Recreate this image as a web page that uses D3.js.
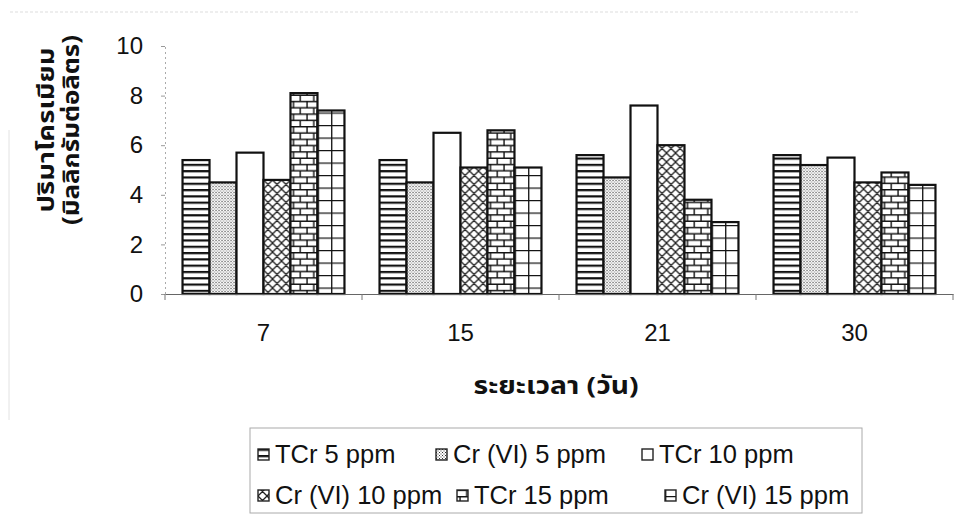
<!DOCTYPE html>
<html>
<head>
<meta charset="utf-8">
<script src="https://cdn.jsdelivr.net/npm/d3@7"></script>
<style>
  html, body { margin: 0; padding: 0; background: #fff; }
  svg { display: block; }
  .num { font-family: "Liberation Sans", Arial, sans-serif; fill: #111; }
  .thai { font-family: "Noto Sans Thai", "Noto Sans", "DejaVu Sans", sans-serif; font-weight: bold; fill: #111; }
</style>
</head>
<body>
<svg id="chart" width="963" height="518"></svg>
<script>
// Sampling day (x categories)
const days = ["7", "15", "21", "30"];
// Series names as shown in the legend
const seriesNames = ["TCr 5 ppm", "Cr (VI) 5 ppm", "TCr 10 ppm", "Cr (VI) 10 ppm", "TCr 15 ppm", "Cr (VI) 15 ppm"];
// Chromium concentration (mg/L) per series, one value per day
const tcr5   = [5.4, 5.4, 5.6, 5.6];
const crvi5  = [4.5, 4.5, 4.7, 5.2];
const tcr10  = [5.7, 6.5, 7.6, 5.5];
const crvi10 = [4.6, 5.1, 6.0, 4.5];
const tcr15  = [8.1, 6.6, 3.8, 4.9];
const crvi15 = [7.4, 5.1, 2.9, 4.4];
const yTicks = [0, 2, 4, 6, 8, 10];
const yTitle = ["ปริมาโครเมียม", "(มิลลิกรัมต่อลิตร)"];
const xTitle = "ระยะเวลา (วัน)";

const seriesValues = [tcr5, crvi5, tcr10, crvi10, tcr15, crvi15];
const patternIds = ["p-hstripe", "p-dots", "p-blank", "p-cross", "p-brick", "p-grid"];

const svg = d3.select("#chart");
const defs = svg.append("defs");

// Fill patterns for the monochrome bars (user space of each group, so they line up per bar)
function mkPattern(id, w, h, draw) {
  const p = defs.append("pattern").attr("id", id)
    .attr("patternUnits", "userSpaceOnUse").attr("width", w).attr("height", h);
  p.append("rect").attr("width", w).attr("height", h).attr("fill", "#fff");
  draw(p);
}
mkPattern("p-hstripe", 8, 6.3, p => {
  p.append("rect").attr("x", 0).attr("y", 0).attr("width", 8).attr("height", 2.2).attr("fill", "#111");
});
mkPattern("p-dots", 3, 3, p => {
  p.append("rect").attr("x", 0).attr("y", 0).attr("width", 1).attr("height", 1).attr("fill", "#333");
  p.append("rect").attr("x", 1.5).attr("y", 1.5).attr("width", 1).attr("height", 1).attr("fill", "#333");
});
mkPattern("p-blank", 4, 4, p => {});
mkPattern("p-cross", 9, 9, p => {
  p.append("path").attr("d", "M0,0 L9,9 M9,0 L0,9 M-1,8 L1,10 M8,-1 L10,1 M-1,1 L1,-1 M8,10 L10,8")
    .attr("stroke", "#222").attr("stroke-width", 1.3).attr("fill", "none");
});
mkPattern("p-brick", 13.5, 12.6, p => {
  p.append("path").attr("d", "M0,0.7 H13.5 M0,7 H13.5 M3,0.7 V7 M9.75,7 V12.6")
    .attr("stroke", "#111").attr("stroke-width", 1.4).attr("fill", "none");
});
mkPattern("p-grid", 13.5, 12.5, p => {
  p.append("path").attr("d", "M0,0.6 H13.5 M0.7,0 V12.5")
    .attr("stroke", "#111").attr("stroke-width", 1.3).attr("fill", "none");
});

// Scales
const x0 = d3.scaleBand().domain(days).range([165, 953]).paddingInner(0.178).paddingOuter(0.089);
const x1 = d3.scaleBand().domain(d3.range(seriesNames.length)).range([0, x0.bandwidth()]);
const y = d3.scaleLinear().domain([0, 10]).range([294, 46]);

// Faint outer frame of the chart area
svg.append("path").attr("d", "M10,12 H860").attr("stroke", "#ddd").attr("stroke-width", 1).attr("stroke-dasharray", "3,2");
svg.append("path").attr("d", "M9,130 V420").attr("stroke", "#e2e2e2").attr("stroke-width", 1);

// Y axis (light dotted line with ticks)
const yAxis = svg.append("g").attr("transform", "translate(165,0)")
  .call(d3.axisLeft(y).tickValues(yTicks).tickSize(4).tickPadding(18));
yAxis.select(".domain").attr("stroke", "#aaa").attr("stroke-dasharray", "2,3");
yAxis.selectAll(".tick line").attr("stroke", "#999");
yAxis.selectAll(".tick text").attr("class", "num").attr("font-size", 24).attr("fill", "#111");

// Bars
const groups = svg.append("g").selectAll("g").data(days).join("g")
  .attr("transform", d => `translate(${x0(d)},0)`);
groups.selectAll("rect")
  .data((d, i) => seriesValues.map((vals, s) => ({ s, v: vals[i] })))
  .join("rect")
  .attr("x", d => x1(d.s))
  .attr("y", d => y(d.v))
  .attr("width", x1.bandwidth())
  .attr("height", d => y(0) - y(d.v))
  .attr("fill", d => `url(#${patternIds[d.s]})`)
  .attr("stroke", "#111")
  .attr("stroke-width", 2.2);

// X axis line with category boundary ticks
const xAxis = svg.append("g").attr("transform", `translate(0,${y(0)})`)
  .call(d3.axisBottom(x0).tickSize(0).tickPadding(30));
xAxis.select(".domain").attr("stroke", "#666").attr("stroke-width", 1.2);
xAxis.selectAll(".tick text").attr("class", "num").attr("font-size", 24).attr("fill", "#111");
const bounds = x0.domain().map(d => x0(d) - x0.step() * x0.paddingInner() / 2).concat([953]);
xAxis.selectAll(".bound").data(bounds).join("line").attr("class", "bound")
  .attr("x1", d => d).attr("x2", d => d).attr("y1", 0).attr("y2", 6)
  .attr("stroke", "#777");

// Axis titles
const yt = svg.append("text").attr("class", "thai").attr("font-size", 23)
  .attr("transform", "translate(46,130) rotate(-90)").attr("text-anchor", "middle");
const yTitleLen = [165, 190];
yt.selectAll("tspan").data(yTitle).join("tspan")
  .attr("x", 0).attr("dy", (d, i) => i === 0 ? "0.35em" : 25)
  .attr("textLength", (d, i) => yTitleLen[i]).attr("lengthAdjust", "spacingAndGlyphs")
  .text(d => d);

svg.append("text").attr("class", "thai").attr("font-size", 24)
  .attr("x", 556).attr("y", 394).attr("text-anchor", "middle")
  .attr("textLength", 165).attr("lengthAdjust", "spacingAndGlyphs").text(xTitle);

// Legend
const legend = svg.append("g");
legend.append("rect").attr("x", 250).attr("y", 428).attr("width", 612).attr("height", 85)
  .attr("fill", "none").attr("stroke", "#aaa").attr("stroke-width", 1);
const legendPos = [[258, 455], [436, 455], [642, 455], [258, 496], [457, 496], [665, 496]];
const items = legend.selectAll("g").data(seriesNames).join("g")
  .attr("transform", (d, i) => `translate(${legendPos[i][0]},${legendPos[i][1]})`);
items.append("rect").attr("x", 0).attr("y", -6).attr("width", 11).attr("height", 11)
  .attr("fill", (d, i) => `url(#${patternIds[i]})`)
  .attr("stroke", "#222").attr("stroke-width", 1.4);
items.append("text").attr("class", "num").attr("font-size", 25.5)
  .attr("x", 17).attr("y", 8).text(d => d);
</script>
</body>
</html>
